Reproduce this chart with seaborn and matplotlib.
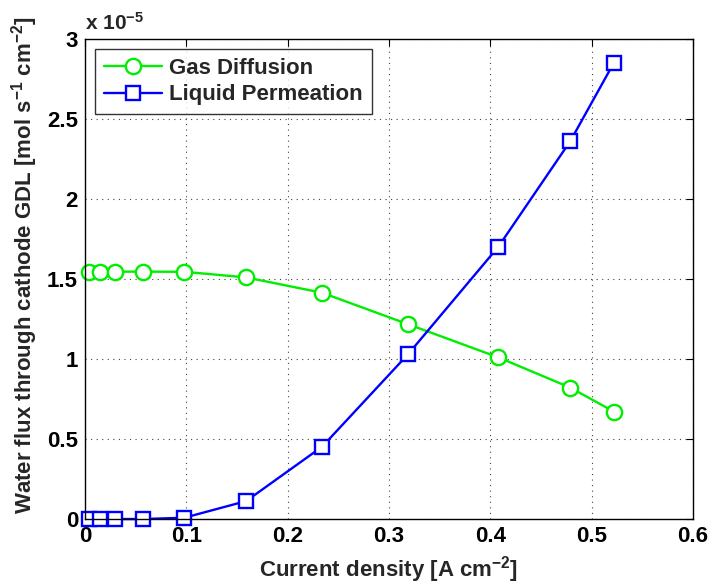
import matplotlib
matplotlib.use("Agg")
import matplotlib.pyplot as plt
import matplotlib.ticker as mticker
import seaborn as sns
import pandas as pd

# Current density [A cm^-2]
current_density = [0.004, 0.015, 0.030, 0.057, 0.098, 0.159, 0.234, 0.319, 0.408, 0.479, 0.522]
# Water flux through the cathode GDL [mol s^-1 cm^-2]
gas_diffusion = [1.546e-5, 1.546e-5, 1.546e-5, 1.546e-5, 1.545e-5, 1.510e-5, 1.414e-5,
                 1.217e-5, 1.010e-5, 0.821e-5, 0.671e-5]
liquid_permeation = [0.0, 0.0, 0.0, 0.0, 0.008e-5, 0.112e-5, 0.452e-5,
                     1.031e-5, 1.702e-5, 2.362e-5, 2.852e-5]

x_ticks = [0, 0.1, 0.2, 0.3, 0.4, 0.5, 0.6]
y_ticks = [0, 0.5e-5, 1e-5, 1.5e-5, 2e-5, 2.5e-5, 3e-5]
scale = 1e-5
FS = 16

sns.set_style("white")
plt.rcParams["font.family"] = ["Liberation Sans", "DejaVu Sans"]
plt.rcParams["font.weight"] = "bold"
plt.rcParams["mathtext.fontset"] = "custom"
plt.rcParams["mathtext.rm"] = "Liberation Sans:bold"
plt.rcParams["mathtext.it"] = "Liberation Sans:bold"
plt.rcParams["mathtext.bf"] = "Liberation Sans:bold"
plt.rcParams["mathtext.default"] = "rm"

df = pd.DataFrame({"j": current_density, "gas": gas_diffusion, "liq": liquid_permeation})

fig = plt.figure(figsize=(7.10, 5.87), dpi=100)
ax = fig.add_axes([0.1197, 0.1158, 0.8563, 0.8178])

sns.lineplot(data=df, x="j", y="gas", ax=ax, color="#00ee00", lw=1.7,
             marker="o", markersize=11, markerfacecolor="white",
             markeredgecolor="#00ee00", markeredgewidth=1.7, clip_on=False,
             label="Gas Diffusion", sort=False, estimator=None)
sns.lineplot(data=df, x="j", y="liq", ax=ax, color="#0000ff", lw=1.7,
             marker="s", markersize=9.5, markerfacecolor="white",
             markeredgecolor="#0000ff", markeredgewidth=1.7, clip_on=False,
             label="Liquid Permeation", sort=False, estimator=None)

ax.set_xlim(0, 0.6)
ax.set_ylim(0, 3e-5)
ax.set_xticks(x_ticks)
ax.set_yticks(y_ticks)
ax.xaxis.set_major_formatter(mticker.FuncFormatter(lambda v, p: f"{v:g}"))
ax.yaxis.set_major_formatter(mticker.FuncFormatter(lambda v, p: f"{round(v / scale, 6):g}"))

ax.grid(True, color="#444444", linestyle=(0, (1, 4)), linewidth=0.8)
ax.tick_params(axis="both", which="both", direction="in", length=5, width=0.8,
               top=True, right=True, labelsize=FS, colors="black")
ax.tick_params(axis="x", pad=5)
ax.tick_params(axis="y", pad=5)
for lbl in ax.get_xticklabels() + ax.get_yticklabels():
    lbl.set_fontweight("bold")
for sp in ax.spines.values():
    sp.set_color("black")
    sp.set_linewidth(1.0)

ax.set_xlabel("Current density [A cm$^{-2}$]", fontsize=FS, fontweight="bold", labelpad=5)
ax.set_ylabel("Water flux through cathode GDL [mol s$^{-1}$ cm$^{-2}$]",
              fontsize=FS, fontweight="bold", labelpad=5)
ax.yaxis.label.set_y(0.529)
ax.text(0.0, 1.01, "x 10$^{-5}$", transform=ax.transAxes, fontsize=15,
        fontweight="bold", ha="left", va="bottom")

leg = ax.legend(loc="upper left", fontsize=FS, frameon=True, fancybox=False,
                edgecolor="black", handlelength=2.6, borderaxespad=0.45,
                borderpad=0.4, labelspacing=0.25, handletextpad=0.35)
leg.get_frame().set_linewidth(1.0)
for t in leg.get_texts():
    t.set_fontweight("bold")

fig.savefig("out.png", dpi=100, facecolor="white")
